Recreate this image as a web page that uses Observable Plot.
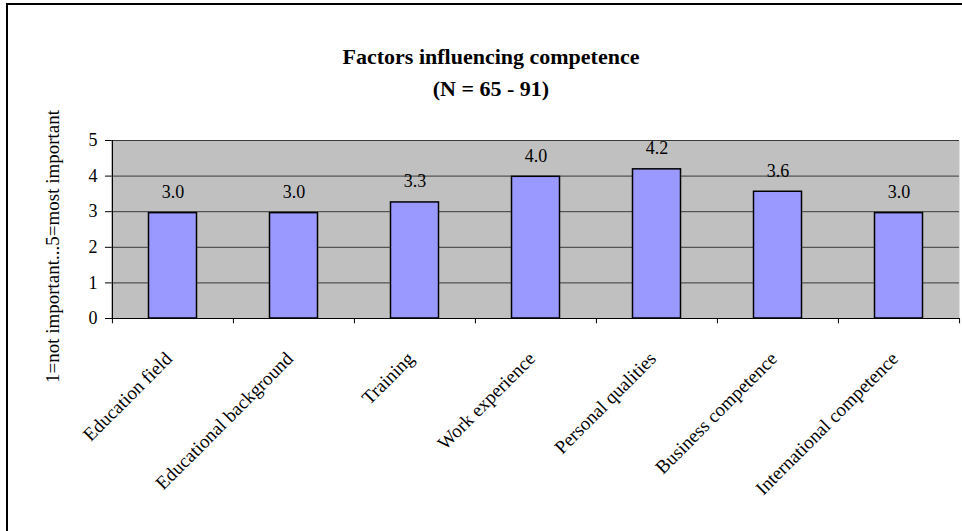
<!DOCTYPE html>
<html>
<head>
<meta charset="utf-8">
<script src="https://cdn.jsdelivr.net/npm/d3@7"></script>
<script src="https://cdn.jsdelivr.net/npm/@observablehq/plot@0.6"></script>
<style>
  html, body { margin: 0; padding: 0; background: #fff; }
  #wrap { position: relative; width: 962px; height: 531px; overflow: hidden; font-family: "Liberation Serif", "Times New Roman", serif; }
  #border { position: absolute; left: 6px; top: 3px; right: -10px; bottom: -10px; border-top: 2px solid #000; border-left: 2px solid #000; }
  .title { position: absolute; left: 0; width: 982px; text-align: center; font-weight: bold; font-size: 22px; line-height: 22px; color: #000; font-family: "Liberation Serif", serif; }
  #chart { position: absolute; left: 0; top: 0; }
  #chart svg, #chart svg text { font-family: "Liberation Serif", serif !important; }
</style>
</head>
<body>
<div id="wrap">
  <div id="chart"></div>
  <div id="border"></div>
  <div class="title" style="top:46px">Factors influencing competence</div>
  <div class="title" style="top:78px">(N = 65 - 91)</div>
</div>
<script>
const categories = ["Education field", "Educational background", "Training", "Work experience", "Personal qualities", "Business competence", "International competence"];
const values = [2.96, 2.96, 3.26, 3.98, 4.19, 3.56, 2.96];
const yTicks = [0, 1, 2, 3, 4, 5];
const yTitle = "1=not important...5=most important";

const data = categories.map((c, i) => ({category: c, value: values[i]}));

const W = 962, H = 531;
const mL = 111, mR = 3, mT = 140, mB = 213;
const bw = (W - mL - mR) / categories.length;
const serif = "Liberation Serif, serif";

const chart = Plot.plot({
  width: W,
  height: H,
  marginLeft: mL,
  marginRight: mR,
  marginTop: mT,
  marginBottom: mB,
  style: {fontFamily: serif, color: "#000", background: "transparent"},
  x: {type: "band", domain: categories, padding: 0, axis: null, label: null},
  y: {domain: [0, 5], axis: null, label: null},
  marks: [
    Plot.frame({fill: "#c0c0c0", stroke: null}),
    Plot.gridY(yTicks.filter(d => d > 0), {stroke: "#3a3a3a", strokeOpacity: 1, strokeWidth: 1}),
    Plot.barY(data, {x: "category", y: "value", fill: "#9999ff", stroke: "#000", strokeWidth: 1.5, insetLeft: 36.5, insetRight: 36.5}),
    Plot.ruleY([0], {stroke: "#000", strokeWidth: 1.2}),
    Plot.ruleX([categories[0]], {x: d => d, y1: 0, y2: 5, dx: -bw / 2, stroke: "#000", strokeWidth: 1.2}),
    Plot.axisY({ticks: yTicks, label: null, tickSize: 6, tickPadding: 8, fontSize: 18, fontFamily: serif, tickFormat: d => String(d), stroke: "#000", fill: "#000"}),
    Plot.ruleX(categories, {x: d => d, y1: 0, y2: -0.15, dx: -bw / 2, stroke: "#000"}),
    Plot.ruleX([categories[categories.length - 1]], {x: d => d, y1: 0, y2: -0.15, dx: bw / 2, stroke: "#000"}),
    Plot.text(data, {x: "category", y: "value", text: d => d.value.toFixed(1), dy: -15, lineAnchor: "bottom", fontSize: 18, fontFamily: serif, fill: "#000"}),
    Plot.text(categories, {x: d => d, frameAnchor: "bottom", text: d => d, rotate: -45, textAnchor: "end", lineAnchor: "middle", dx: -4, dy: 37, fontSize: 19, fontFamily: serif, fill: "#000"}),
    Plot.text([yTitle], {frameAnchor: "left", text: d => d, rotate: -90, textAnchor: "middle", dx: -59, dy: 17, fontSize: 19, fontFamily: serif, fill: "#000"})
  ]
});
document.getElementById("chart").appendChild(chart);
</script>
</body>
</html>
